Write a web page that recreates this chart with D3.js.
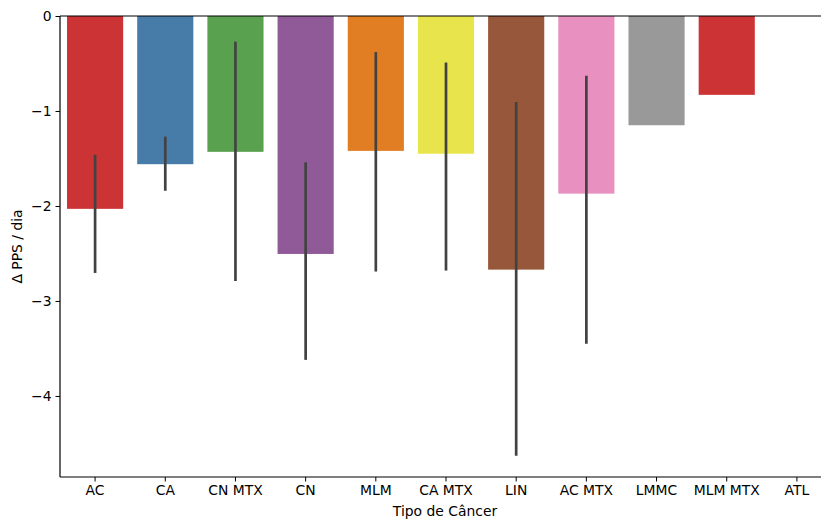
<!DOCTYPE html>
<html><head><meta charset="utf-8">
<script src="https://cdn.jsdelivr.net/npm/d3@7"></script>
<style>body{margin:0;background:#fff}svg{display:block}text{font-family:"DejaVu Sans",sans-serif}</style>
</head><body>
<svg id="c" width="821" height="519"></svg>
<script>
const categories = ["AC","CA","CN MTX","CN","MLM","CA MTX","LIN","AC MTX","LMMC","MLM MTX","ATL"];
const values = [-2.03,-1.56,-1.43,-2.505,-1.42,-1.45,-2.67,-1.87,-1.15,-0.83,null];
const ciLow = [-2.705,-1.84,-2.79,-3.62,-2.69,-2.68,-4.63,-3.45,null,null,null];
const ciHigh = [-1.46,-1.27,-0.27,-1.54,-0.38,-0.49,-0.905,-0.63,null,null,null];
const colors = ["#cb3335","#477ca8","#59a14f","#905998","#e17e23","#e7e44c","#96573a","#e890bf","#999999","#cb3335","#477ca8"];
const yTicks = [0,-1,-2,-3,-4];

const svg = d3.select("#c");
const m = {l:60, r:-11, t:16, b:42};
const W = 821, H = 519;
const x = d3.scaleBand().domain(categories).range([m.l, W - m.r]).paddingInner(0.2).paddingOuter(0.1);
const y = d3.scaleLinear().domain([-4.853, 0]).range([H - m.b, m.t]);

const g = svg.append("g");
categories.forEach((c,i) => {
  if (values[i] == null) return;
  g.append("rect")
    .attr("x", x(c)).attr("width", x.bandwidth())
    .attr("y", y(0)).attr("height", y(values[i]) - y(0))
    .attr("fill", colors[i]);
});
categories.forEach((c,i) => {
  if (ciLow[i] == null) return;
  g.append("line")
    .attr("x1", x(c) + x.bandwidth()/2).attr("x2", x(c) + x.bandwidth()/2)
    .attr("y1", y(ciHigh[i])).attr("y2", y(ciLow[i]))
    .attr("stroke", "#424242").attr("stroke-width", 2.7);
});

const xAxis = svg.append("g").attr("transform", `translate(0,${H - m.b})`)
  .call(d3.axisBottom(x).tickSizeOuter(0).tickSize(4.5).tickPadding(4));
const yAxis = svg.append("g").attr("transform", `translate(${m.l},0)`)
  .call(d3.axisLeft(y).tickValues(yTicks).tickFormat(d => d === 0 ? "0" : "\u2212" + Math.abs(d)).tickSizeOuter(0).tickSize(4.5).tickPadding(4));
[xAxis, yAxis].forEach(a => {
  a.selectAll("text").attr("font-size", 13.9).attr("fill", "#000").attr("font-family", "DejaVu Sans");
  a.selectAll("line").attr("stroke", "#000").attr("stroke-width", 1);
  a.select(".domain").remove();
});
// spines and zero line
svg.append("line").attr("x1", m.l).attr("x2", m.l).attr("y1", y(0)).attr("y2", H - m.b)
  .attr("stroke", "#000").attr("stroke-width", 1.2);
svg.append("line").attr("x1", m.l).attr("x2", W).attr("y1", H - m.b).attr("y2", H - m.b)
  .attr("stroke", "#000").attr("stroke-width", 1.2);
svg.append("line").attr("x1", m.l).attr("x2", W).attr("y1", y(0)).attr("y2", y(0))
  .attr("stroke", "#000").attr("stroke-width", 1.2);

svg.append("text").attr("x", 445).attr("y", 516).attr("text-anchor", "middle")
  .attr("font-size", 13.9).text("Tipo de Câncer");
svg.append("text").attr("transform", `translate(22,${(m.t + H - m.b)/2}) rotate(-90)`)
  .attr("text-anchor", "middle").attr("font-size", 13.9).text("Δ PPS / dia");
</script>
</body></html>
